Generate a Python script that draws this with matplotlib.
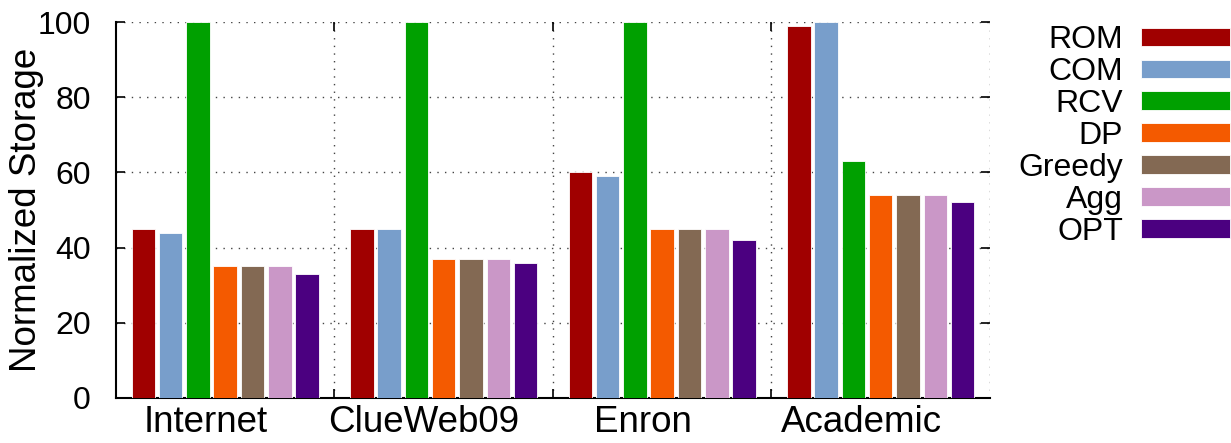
import matplotlib.pyplot as plt
import numpy as np

plt.rcParams["font.family"] = ["Liberation Sans", "DejaVu Sans"]

datasets = ["Internet", "ClueWeb09", "Enron", "Academic"]
methods = ["ROM", "COM", "RCV", "DP", "Greedy", "Agg", "OPT"]
colors = ["#a00000", "#789ecb", "#00a000", "#f45a00", "#836953", "#ca97c7", "#4b0080"]

rom = [45, 45, 60, 99]
com = [44, 45, 59, 100]
rcv = [100, 100, 100, 63]
dp = [35, 37, 45, 54]
greedy = [35, 37, 45, 54]
agg = [35, 37, 45, 54]
opt = [33, 36, 42, 52]
values = [rom, com, rcv, dp, greedy, agg, opt]

fig = plt.figure(figsize=(12.31, 4.43), dpi=100)
ax = fig.add_axes([0.0942, 0.1016, 0.7100, 0.8487])

x = np.arange(len(datasets))
step = 1 / 8
for i, (name, vals, c) in enumerate(zip(methods, values, colors)):
    off = (i - 3) * step
    ax.bar(x + off, vals, step * 0.86, color=c, edgecolor="white",
           linewidth=0.6, label=name, zorder=3)

ax.set_xlim(-0.5, 3.5)
ax.set_ylim(0, 100)

# spines: solid left/bottom, dotted grid on top/right
ax.spines["top"].set_visible(False)
ax.spines["right"].set_visible(False)
ax.spines["left"].set_linewidth(1.5)
ax.spines["bottom"].set_linewidth(1.5)

dot = (0, (1, 4.5))
for yv in [20, 40, 60, 80, 100]:
    ax.axhline(yv, color="#444444", linestyle=dot, linewidth=1, zorder=1)
for xv in [0.5, 1.5, 2.5, 3.5]:
    ax.axvline(xv, color="#444444", linestyle=dot, linewidth=1, zorder=1)

ax.set_yticks([0, 20, 40, 60, 80, 100])
ax.tick_params(axis="y", direction="in", length=6.5, width=1.2, right=True,
               labelsize=23, pad=18)
ax.set_xticks([0.5, 1.5, 2.5])
ax.set_xticklabels([])
ax.tick_params(axis="x", which="major", direction="in", length=6.5, width=1.2, top=True)
# category labels sit a little left of the group centre, as in the original
ax.set_xticks(x - 0.09, minor=True)
ax.set_xticklabels(datasets, minor=True)
ax.tick_params(axis="x", which="minor", length=0, labelsize=26.5, pad=5)

ax.set_ylabel("Normalized Storage", fontsize=26.5)
ax.yaxis.set_label_coords(-0.082, 0.5)

ax.legend(loc="upper left", bbox_to_anchor=(1.018, 1.025), frameon=False,
          markerfirst=False, fontsize=23, handlelength=2.8, handleheight=0.53,
          handletextpad=0.55, labelspacing=0.06, borderaxespad=0)

fig.savefig("out.png", dpi=100)
